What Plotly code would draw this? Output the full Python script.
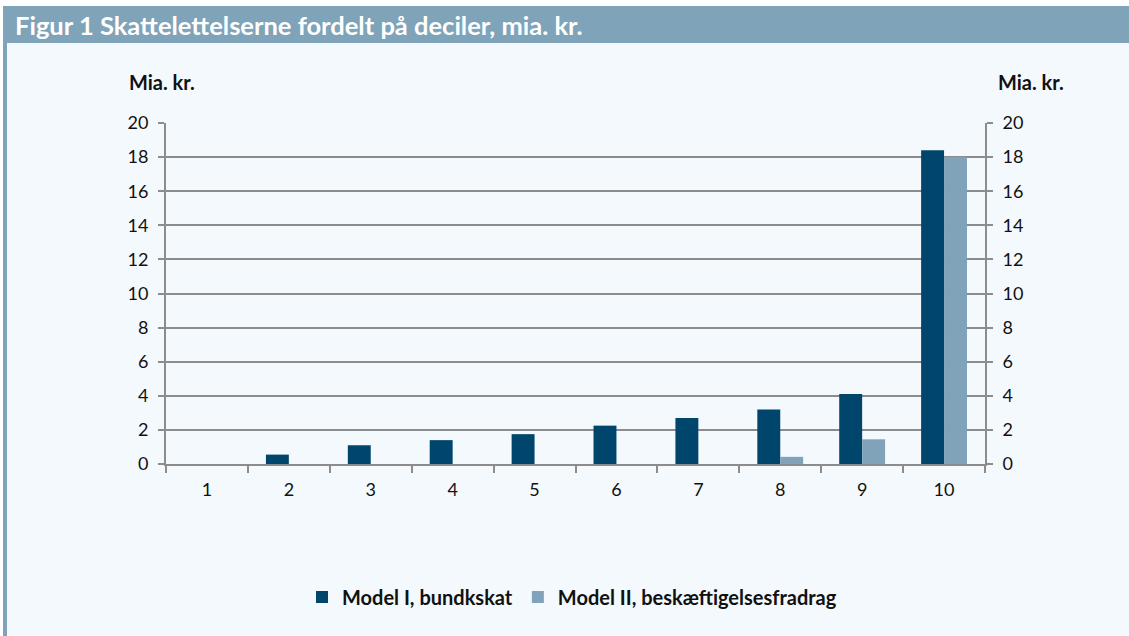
import plotly.graph_objects as go

categories = ["1", "2", "3", "4", "5", "6", "7", "8", "9", "10"]
model_1 = [0.0, 0.55, 1.1, 1.4, 1.75, 2.25, 2.7, 3.2, 4.1, 18.4]
model_2 = [0.0, 0.0, 0.0, 0.0, 0.0, 0.0, 0.0, 0.42, 1.45, 18.0]
series_names = ["Model I, bundkskat", "Model II, beskæftigelsesfradrag"]
y_ticks = [0, 2, 4, 6, 8, 10, 12, 14, 16, 18, 20]

W, H = 1129, 636
L, R, T, B = 166, 985, 123, 464
FONT = "Lato"
DARK = "#00456c"
LIGHT = "#80a3b9"
GRID = "#8c8c8c"
BG = "#f4f9fd"


def px_x(p):
    return (p - L) / (R - L)


def px_y(p):
    return (B - p) / (B - T)


fig = go.Figure()
fig.add_trace(go.Bar(x=categories, y=model_1, name=series_names[0],
                     marker=dict(color=DARK, line=dict(width=0))))
fig.add_trace(go.Bar(x=categories, y=model_2, name=series_names[1],
                     marker=dict(color=LIGHT, line=dict(width=0))))
fig.add_trace(go.Scatter(x=[categories[0]], y=[None], yaxis="y2",
                         showlegend=False, hoverinfo="skip", mode="markers"))

shapes = [
    dict(type="rect", xref="paper", yref="paper", layer="below",
         x0=px_x(3), x1=px_x(W + 5), y0=px_y(43), y1=px_y(H + 5),
         fillcolor=BG, line=dict(width=0)),
    dict(type="rect", xref="paper", yref="paper", layer="below",
         x0=px_x(3), x1=px_x(W + 5), y0=px_y(6), y1=px_y(43),
         fillcolor="#7fa3b8", line=dict(width=0)),
    dict(type="rect", xref="paper", yref="paper", layer="below",
         x0=px_x(3), x1=px_x(7), y0=px_y(6), y1=px_y(H + 5),
         fillcolor="#7fa3b8", line=dict(width=0)),
]

annotations = [
    dict(text="<b>Figur 1 Skattelettelserne fordelt på deciler, mia. kr.</b>",
         xref="paper", yref="paper", x=px_x(13), y=px_y(25),
         xanchor="left", yanchor="middle", showarrow=False,
         font=dict(family=FONT, size=25.5, color="white")),
    dict(text="<b>Mia. kr.</b>", xref="paper", yref="paper",
         x=px_x(127), y=px_y(82), xanchor="left", yanchor="middle",
         showarrow=False, font=dict(family=FONT, size=20, color="#111111")),
    dict(text="<b>Mia. kr.</b>", xref="paper", yref="paper",
         x=px_x(996), y=px_y(82), xanchor="left", yanchor="middle",
         showarrow=False, font=dict(family=FONT, size=20, color="#111111")),
]

axis_font = dict(family=FONT, size=18, color="#111111")

fig.update_layout(
    width=W, height=H,
    margin=dict(l=L, r=W - R, t=T, b=H - B, pad=0),
    paper_bgcolor="white",
    plot_bgcolor=BG,
    barmode="group",
    bargap=0.44,
    bargroupgap=0,
    shapes=shapes,
    annotations=annotations,
    showlegend=True,
    legend=dict(orientation="h", x=px_x(572), y=px_y(597),
                xanchor="center", yanchor="middle",
                font=dict(family=FONT, size=20, color="#111111",
                          weight="bold"),
                bgcolor="rgba(0,0,0,0)", traceorder="normal",
                itemwidth=30),
    font=dict(family=FONT),
    xaxis=dict(type="category", range=[-0.5, 9.5], tickson="boundaries",
               ticks="outside", ticklen=7, tickcolor=GRID, tickwidth=2,
               showline=True, linecolor=GRID, linewidth=2,
               showgrid=False, tickfont=axis_font, ticklabelstandoff=8),
    yaxis=dict(range=[0, 20], tickvals=y_ticks, ticks="outside", ticklen=6,
               tickcolor=GRID, tickwidth=2, showline=True, linecolor=GRID,
               linewidth=2, showgrid=True, gridcolor=GRID, gridwidth=1.5,
               zeroline=False, tickfont=axis_font, ticklabelstandoff=6),
    yaxis2=dict(range=[0, 20], tickvals=y_ticks, overlaying="y", side="right",
                ticks="outside", ticklen=6, tickcolor=GRID, tickwidth=2,
                showline=True, linecolor=GRID, linewidth=2, showgrid=False,
                zeroline=False, tickfont=axis_font, ticklabelstandoff=6),
)

fig.write_html("out.html",
               config={"displayModeBar": False},
               post_script="document.body.style.margin='0';")
